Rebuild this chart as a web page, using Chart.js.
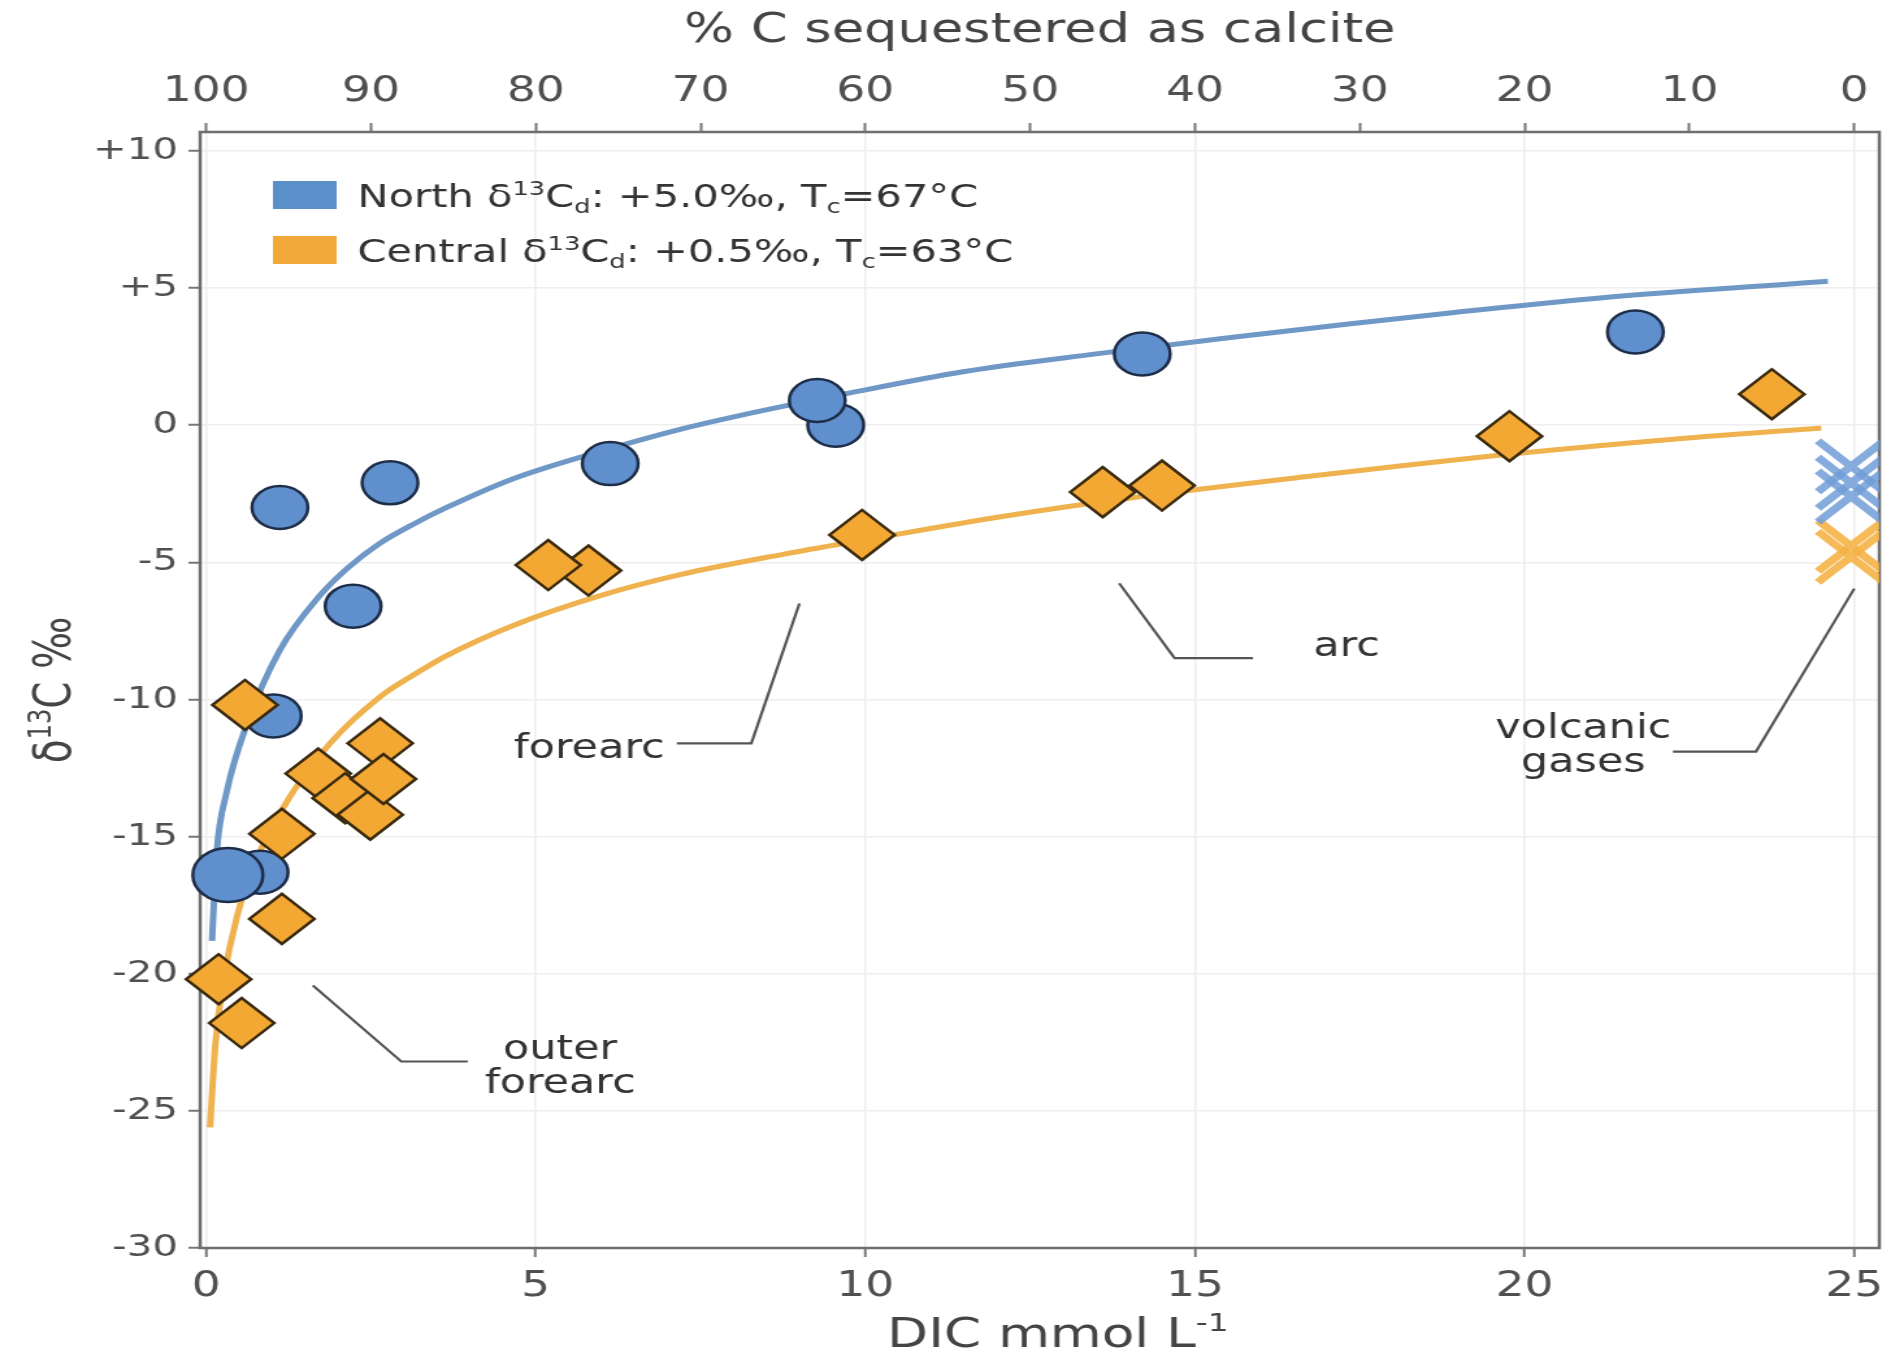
<!DOCTYPE html>
<html>
<head>
<meta charset="utf-8">
<title>δ13C vs DIC</title>
<script src="https://cdn.jsdelivr.net/npm/chart.js@4.4.1/dist/chart.umd.min.js"></script>
<style>
  html, body { margin: 0; padding: 0; background: #fff; }
  #chart { display: block; }
</style>
</head>
<body>
<!-- the source figure is stretched sideways, so the canvas is too -->
<canvas id="chart" width="1455" height="1361" style="width:1891px;height:1361px"></canvas>
<script>
// axis ticks
const dicTicks = [0, 5, 10, 15, 20, 25];
const pctTicks = [100, 90, 80, 70, 60, 50, 40, 30, 20, 10, 0];
const d13cTicks = [-30, -25, -20, -15, -10, -5, 0, 5, 10];

// North springs (circles)
const northDic = [0.82, 0.33, 1.02, 1.12, 2.23, 2.79, 6.13, 9.55, 9.27, 14.2, 21.68];
const northD13c = [-16.3, -16.4, -10.6, -3.0, -6.6, -2.1, -1.4, 0.0, 0.9, 2.6, 3.4];

// Central springs (diamonds)
const centralDic = [0.19, 0.54, 1.15, 1.15, 0.59, 1.70, 2.11, 2.49, 2.64, 2.69, 5.8, 5.19, 9.95, 13.6, 14.5, 19.77, 23.75];
const centralD13c = [-20.2, -21.8, -18.0, -14.9, -10.2, -12.7, -13.6, -14.2, -11.6, -12.9, -5.3, -5.1, -4.0, -2.44, -2.2, -0.4, 1.13];

// model curves
const northCurveDic = [0.09, 0.16, 0.31, 0.62, 1.12, 1.73, 2.15, 2.64, 3.15, 3.65, 4.66, 6.13, 7.19, 8.09, 9.71, 11.48, 13.5, 15.54, 17.36, 18.9, 21.18, 24.6];
const northCurveD13c = [-18.8, -15.6, -13.4, -10.9, -8.2, -6.2, -5.2, -4.3, -3.6, -3.0, -1.95, -0.85, -0.15, 0.35, 1.15, 1.95, 2.6, 3.2, 3.7, 4.1, 4.65, 5.25];
const centralCurveDic = [0.06, 0.14, 0.26, 0.47, 0.77, 1.27, 1.88, 2.64, 3.15, 3.65, 4.66, 5.93, 7.19, 8.77, 9.95, 12.15, 14.19, 16.6, 19.8, 22.3, 24.5];
const centralCurveD13c = [-25.6, -22.6, -20.3, -17.9, -15.8, -13.55, -11.6, -9.9, -9.1, -8.4, -7.3, -6.25, -5.45, -4.7, -4.2, -3.3, -2.6, -1.9, -1.05, -0.5, -0.1];

// volcanic gases (crosses)
const gasNorthDic = [24.95, 24.95, 24.95];
const gasNorthD13c = [-1.5, -2.1, -2.6];
const gasCentralDic = [24.95, 24.95];
const gasCentralD13c = [-4.4, -4.8];

const FONT = "'DejaVu Sans', sans-serif";
const BLUE = "#5f8fcc";
const ORANGE = "#f4a834";

const xMin = -0.09, xMax = 25.38;
const yMin = -30, yMax = 10.69;
// top axis: 100 % at DIC 0, 0 % at DIC 25
const pctAt = dic => pctTicks[0] + (dic - dicTicks[0]) * (pctTicks[pctTicks.length - 1] - pctTicks[0]) / (dicTicks[dicTicks.length - 1] - dicTicks[0]);

const pts = (xs, ys) => xs.map((x, i) => ({ x: x, y: ys[i] }));

const legendItems = [
    { color: "#5b8fca", parts: [["North δ", ""], ["13", "sup"], ["C", ""], ["d", "sub"], [": +5.0‰, T", ""], ["c", "sub"], ["=67°C", ""]] },
    { color: "#f2a93a", parts: [["Central δ", ""], ["13", "sup"], ["C", ""], ["d", "sub"], [": +0.5‰, T", ""], ["c", "sub"], ["=63°C", ""]] }
];

const notes = [
    { lines: ["forearc"], at: [5.81, -12.14], leader: [[9.0, -6.5], [8.27, -11.6], [7.14, -11.6]] },
    { lines: ["arc"], at: [17.3, -8.4], leader: [[13.85, -5.76], [14.69, -8.49], [15.88, -8.49]] },
    { lines: ["outer", "forearc"], at: [5.37, -23.1], leader: [[1.62, -20.43], [2.96, -23.2], [3.97, -23.2]] },
    { lines: ["volcanic", "gases"], at: [20.89, -11.4], leader: [[25.0, -5.96], [23.51, -11.9], [22.25, -11.9]] }
];

// draws text with super/subscripts, y is the baseline
function richText(ctx, parts, x, y, size, align) {
    const small = size * 0.62;
    let total = 0;
    const widths = parts.map(function (p) {
        ctx.font = (p[1] ? small : size) + "px " + FONT;
        const w = ctx.measureText(p[0]).width;
        total += w;
        return w;
    });
    let cx = align === "center" ? x - total / 2 : x;
    ctx.textAlign = "left";
    ctx.textBaseline = "alphabetic";
    parts.forEach(function (p, i) {
        ctx.font = (p[1] ? small : size) + "px " + FONT;
        let dy = 0;
        if (p[1] === "sup") dy = -size * 0.38;
        if (p[1] === "sub") dy = size * 0.2;
        ctx.fillText(p[0], cx, y + dy);
        cx += widths[i];
    });
}

const decor = {
    id: "decor",
    beforeDatasetsDraw(chart) {
        const { ctx, chartArea: a } = chart;
        ctx.save();
        ctx.strokeStyle = "#6e6e6e";
        ctx.lineWidth = 2.5;
        ctx.strokeRect(a.left, a.top, a.right - a.left, a.bottom - a.top);
        ctx.restore();
    },
    afterDraw(chart) {
        const { ctx, chartArea: a } = chart;
        const sx = chart.scales.x, sy = chart.scales.y;
        ctx.save();

        // legend
        legendItems.forEach(function (item, i) {
            const top = 181 + i * 55;
            ctx.fillStyle = item.color;
            ctx.fillRect(210, top, 49, 28);
            ctx.fillStyle = "#333";
            richText(ctx, item.parts, 275, top + 26, 32, "left");
        });

        // leader lines and notes
        ctx.strokeStyle = "#555";
        ctx.lineWidth = 2.2;
        notes.forEach(function (n) {
            ctx.beginPath();
            n.leader.forEach(function (p, i) {
                const px = sx.getPixelForValue(p[0]), py = sy.getPixelForValue(p[1]);
                if (i === 0) ctx.moveTo(px, py); else ctx.lineTo(px, py);
            });
            ctx.stroke();
            ctx.fillStyle = "#333";
            ctx.font = "33px " + FONT;
            ctx.textAlign = "center";
            ctx.textBaseline = "alphabetic";
            const bx = sx.getPixelForValue(n.at[0]);
            const by = sy.getPixelForValue(n.at[1]);
            n.lines.forEach(function (t, i) {
                ctx.fillText(t, bx, by + i * 34);
            });
        });

        // axis titles with super/subscripts
        ctx.fillStyle = "#444";
        richText(ctx, [["DIC mmol L", ""], ["-1", "sup"]], (a.left + a.right) / 2 + 14, 1347, 41, "center");
        ctx.translate(54, (a.top + a.bottom) / 2);
        ctx.rotate(-Math.PI / 2);
        richText(ctx, [["δ", ""], ["13", "sup"], ["C ‰", ""]], 0, 0, 39, "center");
        ctx.restore();
    }
};

// keep the plot box where the figure has it: no room kept for end labels
function fitX(height) {
    return function (s) {
        s.height = height;
        s.paddingLeft = 0;
        s.paddingRight = 0;
    };
}

const ctx = document.getElementById("chart").getContext("2d");
new Chart(ctx, {
    type: "scatter",
    data: {
        datasets: [
            {
                label: "Central",
                data: pts(centralDic, centralD13c),
                pointStyle: "rectRot",
                pointRadius: 25,
                backgroundColor: ORANGE,
                borderColor: "#3a2a0e",
                borderWidth: 2.5,
                clip: false,
                order: 0
            },
            {
                label: "North",
                data: pts(northDic, northD13c),
                pointStyle: "circle",
                pointRadius: northDic.map((_, i) => (i === 1 ? 27 : 21.5)),
                backgroundColor: BLUE,
                borderColor: "#1e2d48",
                borderWidth: 2.5,
                clip: false,
                order: 1
            },
            {
                label: "North gases",
                data: pts(gasNorthDic, gasNorthD13c),
                pointStyle: "crossRot",
                pointRadius: 36,
                borderColor: "rgba(112, 158, 214, 0.85)",
                borderWidth: 7,
                clip: 0,
                order: 2
            },
            {
                label: "Central gases",
                data: pts(gasCentralDic, gasCentralD13c),
                pointStyle: "crossRot",
                pointRadius: 36,
                borderColor: "rgba(245, 178, 70, 0.9)",
                borderWidth: 7,
                clip: 0,
                order: 2
            },
            {
                label: "North model",
                data: pts(northCurveDic, northCurveD13c),
                showLine: true,
                pointRadius: 0,
                borderColor: "#6f98c6",
                borderWidth: 5,
                cubicInterpolationMode: "monotone",
                clip: false,
                order: 3
            },
            {
                label: "Central model",
                data: pts(centralCurveDic, centralCurveD13c),
                showLine: true,
                pointRadius: 0,
                borderColor: "#efb24e",
                borderWidth: 5,
                cubicInterpolationMode: "monotone",
                clip: false,
                order: 3
            }
        ]
    },
    options: {
        responsive: false,
        animation: false,
        devicePixelRatio: 1,
        events: [],
        layout: { autoPadding: false, padding: { left: 0, right: 9, top: 0, bottom: 0 } },
        plugins: {
            legend: { display: false },
            tooltip: { enabled: false }
        },
        scales: {
            x: {
                type: "linear",
                position: "bottom",
                min: xMin,
                max: xMax,
                afterBuildTicks: s => { s.ticks = dicTicks.map(v => ({ value: v })); },
                afterFit: fitX(113),
                border: { display: false },
                grid: { color: "#eeeeee", lineWidth: 1.5, tickLength: 9, tickColor: "#777", tickWidth: 2 },
                ticks: { font: { family: FONT, size: 35 }, color: "#505050", padding: 9, maxRotation: 0, autoSkip: false }
            },
            x2: {
                type: "linear",
                position: "top",
                reverse: true,
                min: pctAt(xMax),
                max: pctAt(xMin),
                afterBuildTicks: s => { s.ticks = pctTicks.map(v => ({ value: v })); },
                afterFit: fitX(132),
                border: { display: false },
                grid: { drawOnChartArea: false, tickLength: 9, tickColor: "#777", tickWidth: 2 },
                ticks: { font: { family: FONT, size: 35 }, color: "#505050", padding: 10, maxRotation: 0, autoSkip: false },
                title: {
                    display: true,
                    text: "% C sequestered as calcite",
                    font: { family: FONT, size: 40.5 },
                    color: "#444",
                    padding: { top: 7, bottom: 0 }
                }
            },
            y: {
                type: "linear",
                position: "left",
                min: yMin,
                max: yMax,
                afterBuildTicks: s => { s.ticks = d13cTicks.map(v => ({ value: v })); },
                afterFit: s => { s.width = 154; },
                border: { display: false },
                grid: { color: "#eeeeee", lineWidth: 1.5, tickLength: 9, tickColor: "#777", tickWidth: 2 },
                ticks: {
                    font: { family: FONT, size: 31 },
                    color: "#505050",
                    padding: 8,
                    callback: v => (v > 0 ? "+" + v : String(v))
                }
            }
        }
    },
    plugins: [decor]
});
</script>
</body>
</html>
